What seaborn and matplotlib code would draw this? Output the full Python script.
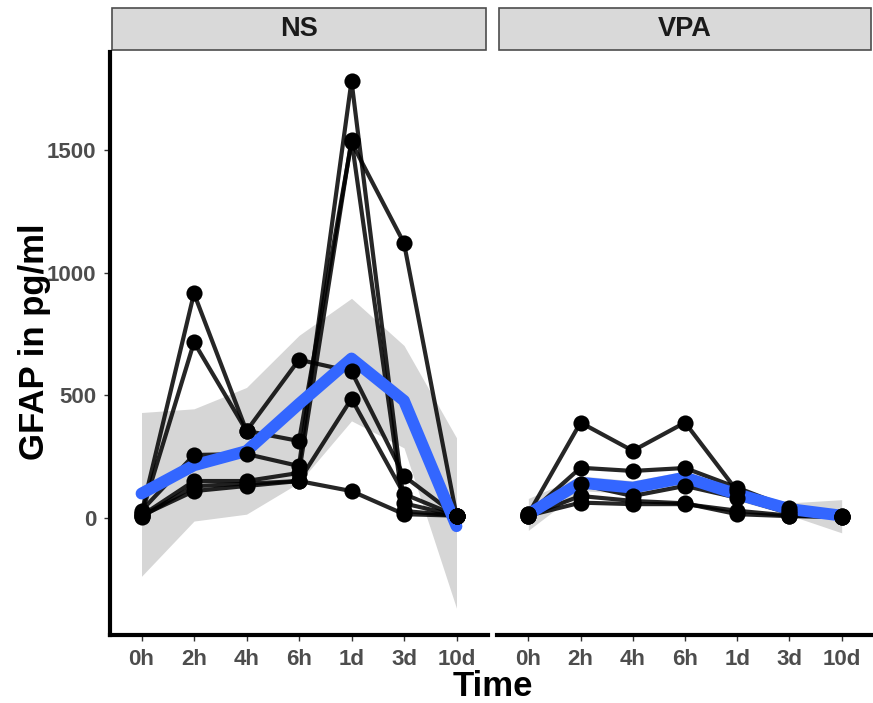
import numpy as np
import pandas as pd
import matplotlib
matplotlib.use("Agg")
import matplotlib.pyplot as plt
import seaborn as sns
from matplotlib.patches import Rectangle

# ---------------- data ----------------
times = ["0h", "2h", "4h", "6h", "1d", "3d", "10d"]
groups = ["NS", "VPA"]

ns_s1 = [20, 915, 355, 645, 597, 171, 10]
ns_s2 = [15, 716, 355, 314, 1530, 1120, 10]
ns_s3 = [30, 257, 261, 212, 1780, 60, 10]
ns_s4 = [10, 151, 151, 184, 1540, 29, 10]
ns_s5 = [5, 130, 140, 151, 486, 98, 10]
ns_s6 = [10, 110, 131, 151, 110, 16, 10]

vpa_s1 = [16, 389, 274, 389, 110, 30, 10]
vpa_s2 = [16, 205, 192, 204, 124, 42, 10]
vpa_s3 = [10, 137, 90, 131, 83, 20, 5]
vpa_s4 = [10, 90, 70, 60, 16, 8, 5]
vpa_s5 = [10, 63, 57, 57, 30, 10, 5]

# smoothed trend and its confidence band
ns_fit = [100, 215, 273, 465, 650, 478, -33]
ns_lo = [-237, -12, 16, 144, 396, 286, -367]
ns_hi = [430, 445, 532, 744, 895, 703, 327]

vpa_fit = [16, 144, 124, 165, 97, 37, 10]
vpa_lo = [-50, 112, 98, 138, 72, 12, -60]
vpa_hi = [80, 172, 152, 192, 122, 62, 75]

yticks = [0, 500, 1000, 1500]

subjects = {
    "NS": [ns_s1, ns_s2, ns_s3, ns_s4, ns_s5, ns_s6],
    "VPA": [vpa_s1, vpa_s2, vpa_s3, vpa_s4, vpa_s5],
}
fits = {"NS": (ns_fit, ns_lo, ns_hi), "VPA": (vpa_fit, vpa_lo, vpa_hi)}

rows = []
for g in groups:
    for i, s in enumerate(subjects[g]):
        for t, (lab, v) in enumerate(zip(times, s)):
            rows.append(dict(group=g, subject=f"{g}{i}", t=t, time=lab, value=v))
df = pd.DataFrame(rows)

# ---------------- figure ----------------
sns.set_theme(style="white")
plt.rcParams["font.family"] = ["Liberation Sans", "DejaVu Sans"]

W, H = 873, 703
fig = plt.figure(figsize=(W / 100, H / 100), dpi=100)
top_px, bot_px = 52, 635
axes_pos = {"NS": (110, 488), "VPA": (497, 873)}
axs = {}
for g in groups:
    x0, x1 = axes_pos[g]
    axs[g] = fig.add_axes([x0 / W, 1 - bot_px / H, (x1 - x0) / W, (bot_px - top_px) / H])

grey_txt = "#4D4D4D"
for g in groups:
    ax = axs[g]
    fit, lo, hi = fits[g]
    xs = np.arange(len(times))
    ax.fill_between(xs, lo, hi, color="#D6D6D6", lw=0, zorder=1)
    sub = df[df.group == g]
    sns.lineplot(data=sub, x="t", y="value", units="subject", estimator=None,
                 color="black", lw=3.0, alpha=0.85, ax=ax, zorder=2, legend=False)
    fdf = pd.DataFrame(dict(t=xs, fit=fit))
    sns.lineplot(data=fdf, x="t", y="fit", color="#3366FF", lw=8.5, ax=ax,
                 zorder=3, legend=False)
    sns.scatterplot(data=sub, x="t", y="value", color="black", s=135,
                    edgecolor="black", linewidth=0, ax=ax, zorder=4, legend=False)

    ax.set_xlim(-0.6, 6.6)
    ax.set_ylim(-476, 1898)
    ax.set_xticks(xs)
    ax.set_xticklabels(times, fontsize=16, fontweight="bold", color=grey_txt)
    ax.set_xlabel("")
    ax.set_ylabel("")
    ax.set_yticks(yticks)
    ax.tick_params(axis="both", length=4, width=1, color="#333333", pad=6,
                   bottom=True, left=(g == "NS"))
    for sp in ["top", "right"]:
        ax.spines[sp].set_visible(False)
    ax.spines["bottom"].set_linewidth(3)
    ax.spines["bottom"].set_color("black")
    if g == "NS":
        ax.spines["left"].set_linewidth(3)
        ax.spines["left"].set_color("black")
        ax.set_yticklabels([str(v) for v in yticks], fontsize=16,
                           fontweight="bold", color=grey_txt)
    else:
        ax.spines["left"].set_visible(False)
        ax.set_yticklabels([])
    ax.set_facecolor("white")

    # facet strip
    hpx = bot_px - top_px
    ax.add_patch(Rectangle((0.005, 1 + 2 / hpx), 0.99, 42 / hpx,
                           transform=ax.transAxes, clip_on=False,
                           facecolor="#D9D9D9", edgecolor="#4D4D4D", lw=1.2))
    ax.text(0.5, 1 + 23 / hpx, g, transform=ax.transAxes, ha="center",
            va="center", fontsize=19.5, fontweight="bold", color="#1A1A1A")

fig.text(493 / W, 1 - 687 / H, "Time", ha="center", va="center",
         fontsize=25, fontweight="bold", color="black")
fig.text(35 / W, 1 - 342 / H, "GFAP in pg/ml", ha="center", va="center",
         rotation=90, fontsize=25, fontweight="bold", color="black")

fig.savefig("out.png", dpi=100, facecolor="white")
